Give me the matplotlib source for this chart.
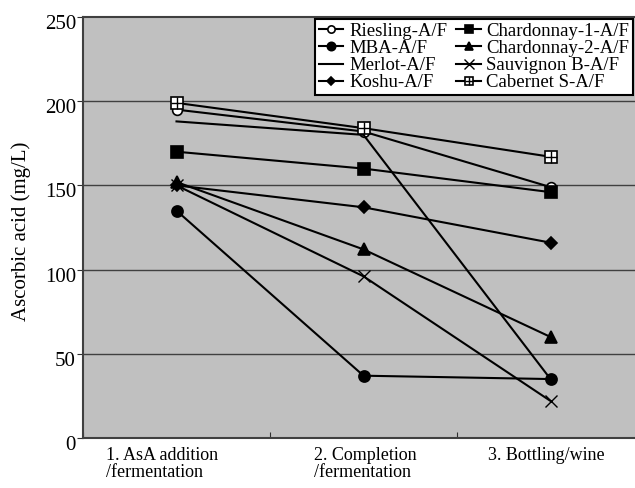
import matplotlib
matplotlib.use("Agg")
import matplotlib.pyplot as plt
import matplotlib.transforms as mtransforms
from matplotlib.legend_handler import HandlerTuple

plt.rcParams['font.family'] = ['Liberation Serif', 'DejaVu Serif']

# ascorbic acid (mg/L) at the three sampling stages
stages = ["1. AsA addition\n/fermentation", "2. Completion\n/fermentation", "3. Bottling/wine"]
riesling = [195, 182, 149]
mba = [135, 37, 35]
merlot = [188, 180, 35]
koshu = [150, 137, 116]
chardonnay1 = [170, 160, 146]
chardonnay2 = [152, 112, 60]
sauvignon = [150, 96, 22]
cabernet = [199, 184, 167]
yticks = [0, 50, 100, 150, 200, 250]

x = [0.5, 1.5, 2.5]

fig = plt.figure(figsize=(6.35, 4.88), dpi=100)
ax = fig.add_axes([83 / 635, 50 / 488, 561 / 635, 421 / 488])
ax.set_facecolor('#c0c0c0')

lw = 1.5
kw = dict(color='black', lw=lw, mec='black', mew=1.2)
h_ries, = ax.plot(x, riesling, marker='o', ms=7, mfc='white', label='Riesling-A/F', **kw)
h_mba, = ax.plot(x, mba, marker='o', ms=8, mfc='black', label='MBA-A/F', **kw)
h_mer, = ax.plot(x, merlot, label='Merlot-A/F', color='black', lw=lw)
h_kos, = ax.plot(x, koshu, marker='D', ms=6, mfc='black', label='Koshu-A/F', **kw)
h_ch1, = ax.plot(x, chardonnay1, marker='s', ms=8, mfc='black', label='Chardonnay-1-A/F', **kw)
h_ch2, = ax.plot(x, chardonnay2, marker='^', ms=8, mfc='black', label='Chardonnay-2-A/F', **kw)
h_sau, = ax.plot(x, sauvignon, marker='x', ms=9, color='black', lw=lw, mew=1.0, label='Sauvignon B-A/F')
h_cab, = ax.plot(x, cabernet, marker='s', ms=8, mfc='white', label='Cabernet S-A/F', **kw)
h_cab2, = ax.plot(x, cabernet, marker='+', ms=8, ls='none', mec='black', mew=1.0)

ax.set_xlim(0, 3)
ax.set_ylim(0, 250)
ax.set_yticks(yticks)
ax.set_xticks([0, 1, 2, 3])
ax.set_xticklabels([])
ax.tick_params(axis='x', direction='in', length=4, color='#303030')
ax.tick_params(axis='y', direction='out', length=4, color='#303030', labelsize=15, pad=1)

# y tick labels sit a little below their gridlines
offset = mtransforms.ScaledTranslation(0, -5 / 100, fig.dpi_scale_trans)
for lab in ax.get_yticklabels():
    lab.set_transform(lab.get_transform() + offset)

for yv in yticks[1:-1]:
    ax.axhline(yv, color='#404040', lw=1.0, zorder=1)

for side in ['left', 'bottom', 'top']:
    ax.spines[side].set_color('#404040')
    ax.spines[side].set_linewidth(1.5)
ax.spines['right'].set_visible(False)

ax.set_ylabel('Ascorbic acid (mg/L)', fontsize=15)
ax.yaxis.set_label_coords(-0.092, 0.49)

label_x = [106 / 635, 314 / 635, 488 / 635]
for lx, s in zip(label_x, stages):
    fig.text(lx, 1 - 447 / 488, s, fontsize=13, ha='left', va='top', linespacing=1.0)

handles = [h_ries, h_mba, h_mer, h_kos, h_ch1, h_ch2, h_sau, (h_cab, h_cab2)]
labels = ['Riesling-A/F', 'MBA-A/F', 'Merlot-A/F', 'Koshu-A/F',
          'Chardonnay-1-A/F', 'Chardonnay-2-A/F', 'Sauvignon B-A/F', 'Cabernet S-A/F']
leg = fig.legend(handles, labels, ncol=2, loc='upper right',
                 bbox_to_anchor=(633 / 635, 1 - 19 / 488),
                 fontsize=13.5, frameon=True, fancybox=False, framealpha=1,
                 edgecolor='black', handlelength=1.3, handletextpad=0.3,
                 columnspacing=0.5, labelspacing=0.0, borderpad=0.2,
                 borderaxespad=0, markerscale=0.75,
                 handler_map={tuple: HandlerTuple(ndivide=1)})
leg.get_frame().set_linewidth(1.5)

fig.savefig('out.png', dpi=100)
